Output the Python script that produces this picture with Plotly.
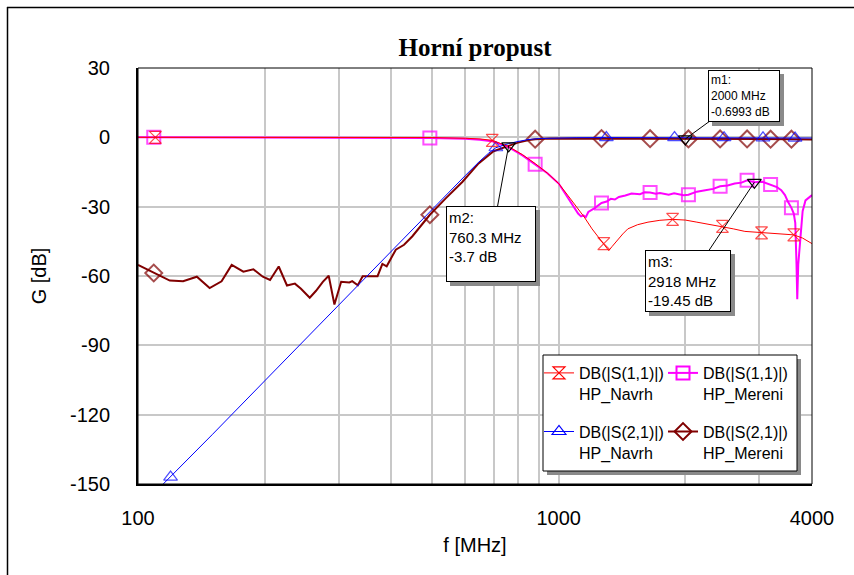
import numpy as np
import plotly.graph_objects as go

# ---------------- data ----------------
# S11 design (HP_Navrh)
f_s11_navrh = [100, 110, 200, 300, 400, 500, 600, 650, 695, 730, 760, 820, 880, 940, 1000,
               1050, 1095, 1150, 1200, 1250, 1280, 1315, 1340, 1375, 1420, 1460, 1540, 1630,
               1740, 1865, 2000, 2130, 2280, 2450, 2600, 2770, 2900, 3035, 3200, 3400, 3620,
               3800, 4000]
db_s11_navrh = [0, 0, 0, 0, -0.05, -0.1, -0.4, -0.7, -1.3, -2.6, -4.0, -7.5, -11.4, -15.5, -20.0,
                -25.0, -29.4, -34.5, -39.6, -43.6, -46.0, -49.0, -47.2, -44.6, -41.8, -39.6, -37.8, -36.7,
                -35.9, -35.5, -35.8, -36.7, -37.6, -38.5, -39.6, -40.7, -41.0, -41.3, -41.5, -41.8, -42.2,
                -43.6, -46.0]
mk_s11_navrh = [110, 695, 1280, 1865, 2450, 3035, 3620]

# S21 design (HP_Navrh)
f_s21_navrh = [100, 119.5, 150, 200, 250, 300, 400, 500, 550, 600, 645, 680, 709, 760, 800,
               850, 900, 1000, 1100, 1298, 1500, 1885, 2472, 3059, 3646, 4000]
db_s21_navrh = [-161, -147.0, -128.7, -105.4, -87.3, -72.4, -49.1, -31.0, -23.5, -16.5, -10.8,
                -7.0, -4.5, -2.7, -1.8, -0.9, -0.5, -0.25, -0.15, -0.1, -0.1, -0.1, -0.15, -0.2,
                -0.3, -0.3]
mk_s21_navrh = [119.5, 709, 1298, 1885, 2472, 3059, 3646]

# S21 measured (HP_Mereni)
f_s21_mereni = [100, 109, 119, 128, 138, 148, 158, 167, 178, 188, 198, 206, 216, 226, 236, 244,
                256, 265, 275, 284, 293, 304, 318, 323, 333, 342, 355, 371, 381, 390, 410, 429,
                449, 474, 494, 538, 590, 645, 700, 760.3, 800, 850, 879, 950, 1000, 1264, 1649,
                2000, 2034, 2419, 2804, 3189, 3574, 4000]
db_s21_mereni = [-55.2, -58.7, -62.0, -62.3, -60.3, -65.2, -62.3, -55.2, -58.1, -57.1, -60.3, -61.7,
                 -55.9, -64.1, -63.3, -65.5, -69.4, -66.4, -62.5, -59.9, -72.3, -62.5, -62.8, -62.2,
                 -64.0, -60.1, -60.1, -60.1, -54.8, -55.8, -48.6, -46.5, -42.8, -37.8, -33.5, -26.5,
                 -19.3, -11.3, -6.0, -3.7, -2.3, -1.2, -0.8, -0.5, -0.5, -0.5, -0.6, -0.6993, -0.7,
                 -0.7, -0.7, -0.8, -0.8, -0.9]
mk_mereni = [109, 494, 879, 1264, 1649, 2034, 2419, 2804, 3189, 3574]

# S11 measured (HP_Mereni)
f_s11_mereni = [100, 109, 300, 494, 600, 650, 700, 760, 820, 879, 940, 1000, 1040, 1073, 1112,
                1130, 1144, 1160, 1176, 1220, 1264, 1300, 1330, 1360, 1390, 1440, 1490, 1560,
                1600, 1649, 1700, 1740, 1826, 1880, 1930, 1980, 2034, 2080, 2130, 2230, 2330,
                2419, 2520, 2620, 2720, 2804, 2918, 3050, 3189, 3300, 3380, 3450, 3510, 3574,
                3620, 3650, 3675, 3690, 3710, 3740, 3770, 3800, 3860, 3930, 4000]
db_s11_mereni = [0, 0, 0, -0.3, -0.6, -1.0, -1.8, -4.2, -7.8, -11.6, -15.5, -20.0, -25.0, -28.7, -33.0,
                 -34.2, -33.8, -34.5, -32.3, -30.5, -28.4, -27.8, -26.6, -26.9, -25.8, -25.2, -24.3, -24.6,
                 -23.8, -23.9, -24.4, -24.1, -24.8, -24.2, -24.6, -25.1, -24.8, -24.0, -23.5, -22.9, -22.3,
                 -21.2, -20.8, -20.0, -19.6, -18.6, -19.45, -19.2, -20.4, -21.5, -22.9, -25.0, -28.0, -30.5,
                 -33.0, -37.0, -55.0, -70.0, -55.0, -46.8, -38.0, -32.0, -27.3, -26.0, -25.0]

# marker readouts
mk_names = ["m1", "m2", "m3"]
mk_freq = [2000, 760.3, 2918]
mk_db = [-0.6993, -3.7, -19.45]

x_ticks = [100, 1000, 4000]
x_minor = [200, 300, 400, 500, 600, 700, 800, 900, 2000, 3000]
y_ticks = [-150, -120, -90, -60, -30, 0, 30]

# ---------------- layout helpers ----------------
W, H = 854, 575
L, R, T, B = 138, 812, 68, 484
def px2x(px):
    return (px - L) / (R - L)
def py2y(py):
    return (B - py) / (B - T)

FONT = "Liberation Sans, Arial, sans-serif"

def sizes(freqs, marks, s):
    return [s if f in marks else 0 for f in freqs]

series = [
    # x, y, marks, name, legend, rank, color, line width, symbol, marker size, group
    (f_s21_mereni, db_s21_mereni, mk_mereni, "DB(|S(2,1)|)<br>HP_Mereni", "legend2", 2,
     "#800000", 2, "diamond-open", 13, "g4"),
    (f_s11_mereni, db_s11_mereni, mk_mereni, "DB(|S(1,1)|)<br>HP_Mereni", "legend2", 1,
     "#FF00FF", 2, "square-open", 13, "g3"),
    (f_s21_navrh, db_s21_navrh, mk_s21_navrh, "DB(|S(2,1)|)<br>HP_Navrh", "legend", 2,
     "#0000FF", 1, "triangle-up-open", 12, "g2"),
    (f_s11_navrh, db_s11_navrh, mk_s11_navrh, "DB(|S(1,1)|)<br>HP_Navrh", "legend", 1,
     "#FF0000", 1, "hourglass-open", 12, "g1"),
]

fig = go.Figure()
for xs, ys, marks, name, leg, rank, col, lw, sym, ms, grp in series:
    mlw = 2 if lw == 2 else 1.2
    fig.add_trace(go.Scatter(
        x=xs, y=ys, mode="lines+markers", name=name, showlegend=False, legendgroup=grp,
        line=dict(color=col, width=lw),
        marker=dict(symbol=sym, size=sizes(xs, marks, ms), color=col,
                    line=dict(color=col, width=mlw))))
    # legend entry (no data points)
    fig.add_trace(go.Scatter(
        x=[None], y=[None], mode="lines+markers", name=name, legend=leg, legendrank=rank,
        legendgroup=grp,
        line=dict(color=col, width=lw),
        marker=dict(symbol=sym, size=ms, color=col, line=dict(color=col, width=mlw))))

fig.add_trace(go.Scatter(
    x=mk_freq, y=mk_db, mode="markers", showlegend=False,
    marker=dict(symbol="triangle-down-open", size=12, color="black",
                line=dict(color="black", width=1.2))))

# marker readout boxes (shadow + box)
box_specs = [
    # ax, ay, width, height, font size, valign
    (59, -43, 66, 46, 12, "middle"),
    (-18, 98, 84, 70, 15, "top"),
    (-66, 99, 80, 56, 15, "top"),
]
for name, f, d, (ax, ay, bw, bh, fs, va) in zip(mk_names, mk_freq, mk_db, box_specs):
    txt = f"{name}:<br>{f:g} MHz<br>{d:g} dB"
    common = dict(x=np.log10(f), y=d, xref="x", yref="y", showarrow=True,
                  ax=ax, ay=ay, arrowhead=0, width=bw, height=bh, align="left",
                  valign=va, borderpad=2, borderwidth=1,
                  font=dict(family=FONT, size=fs, color="black"))
    fig.add_annotation(**common, text=" ", xshift=4, yshift=-4, bgcolor="#8a8a8a",
                       bordercolor="#8a8a8a", arrowcolor="rgba(0,0,0,0)")
    fig.add_annotation(**common, text=txt, bgcolor="white", bordercolor="black",
                       arrowcolor="black", arrowwidth=1)

shapes = [
    # outer frame (top and left edges visible)
    dict(type="line", xref="paper", yref="paper", x0=px2x(7), x1=px2x(860), y0=py2y(7.5), y1=py2y(7.5),
         line=dict(color="black", width=1.5)),
    dict(type="line", xref="paper", yref="paper", x0=px2x(7.5), x1=px2x(7.5), y0=py2y(7), y1=py2y(580),
         line=dict(color="black", width=1.5)),
    # plot frame
    dict(type="rect", xref="paper", yref="paper", x0=0, x1=1, y0=0, y1=1,
         line=dict(color="black", width=1), layer="above"),
    # legend shadow + box
    dict(type="rect", xref="paper", yref="paper", x0=px2x(547), x1=px2x(801), y0=py2y(475), y1=py2y(359),
         fillcolor="#8a8a8a", line=dict(width=0), layer="above"),
    dict(type="rect", xref="paper", yref="paper", x0=px2x(543), x1=px2x(797), y0=py2y(471), y1=py2y(355),
         fillcolor="white", line=dict(color="black", width=1), layer="above"),
]

legend_common = dict(yanchor="top", xanchor="left", bgcolor="rgba(0,0,0,0)", borderwidth=0,
                     font=dict(family=FONT, size=16, color="black"), valign="top",
                     itemsizing="trace", itemwidth=30, tracegroupgap=14,
                     orientation="v", itemclick=False, itemdoubleclick=False)

fig.update_layout(
    width=W, height=H,
    margin=dict(l=L, r=W - R, t=T, b=H - B, pad=0),
    paper_bgcolor="white", plot_bgcolor="white",
    title=dict(text="<b>Horní propust</b>", x=0.5, xref="paper", xanchor="center",
               y=1 - 47 / H, yref="container", yanchor="middle",
               font=dict(family="Liberation Serif, Times New Roman, serif", size=25, color="black")),
    showlegend=True,
    legend=dict(x=px2x(539), y=py2y(356), **legend_common),
    legend2=dict(x=px2x(663), y=py2y(356), **legend_common),
    shapes=shapes,
    xaxis=dict(type="log", range=[np.log10(100), np.log10(4000)],
               tickvals=x_ticks, ticktext=[str(v) for v in x_ticks],
               showgrid=True, gridcolor="#c8c8c8", gridwidth=1.5,
               minor=dict(tickvals=x_minor, showgrid=True, gridcolor="#c8c8c8", gridwidth=1.5, ticks=""),
               showline=True, linecolor="black", linewidth=2, ticks="",
               ticklabelstandoff=15, zeroline=False,
               tickfont=dict(family=FONT, size=20, color="black"),
               title=dict(text="f [MHz]", standoff=10, font=dict(family=FONT, size=20, color="black"))),
    yaxis=dict(range=[-150, 30], tickvals=y_ticks, ticktext=[str(v) for v in y_ticks],
               showgrid=True, gridcolor="#c8c8c8", gridwidth=1.5,
               showline=True, linecolor="black", linewidth=2, ticks="",
               ticklabelstandoff=22, zeroline=False,
               tickfont=dict(family=FONT, size=20, color="black"),
               title=dict(text="G [dB]", standoff=18, font=dict(family=FONT, size=20, color="black"))),
)

fig.write_html("out.html")
